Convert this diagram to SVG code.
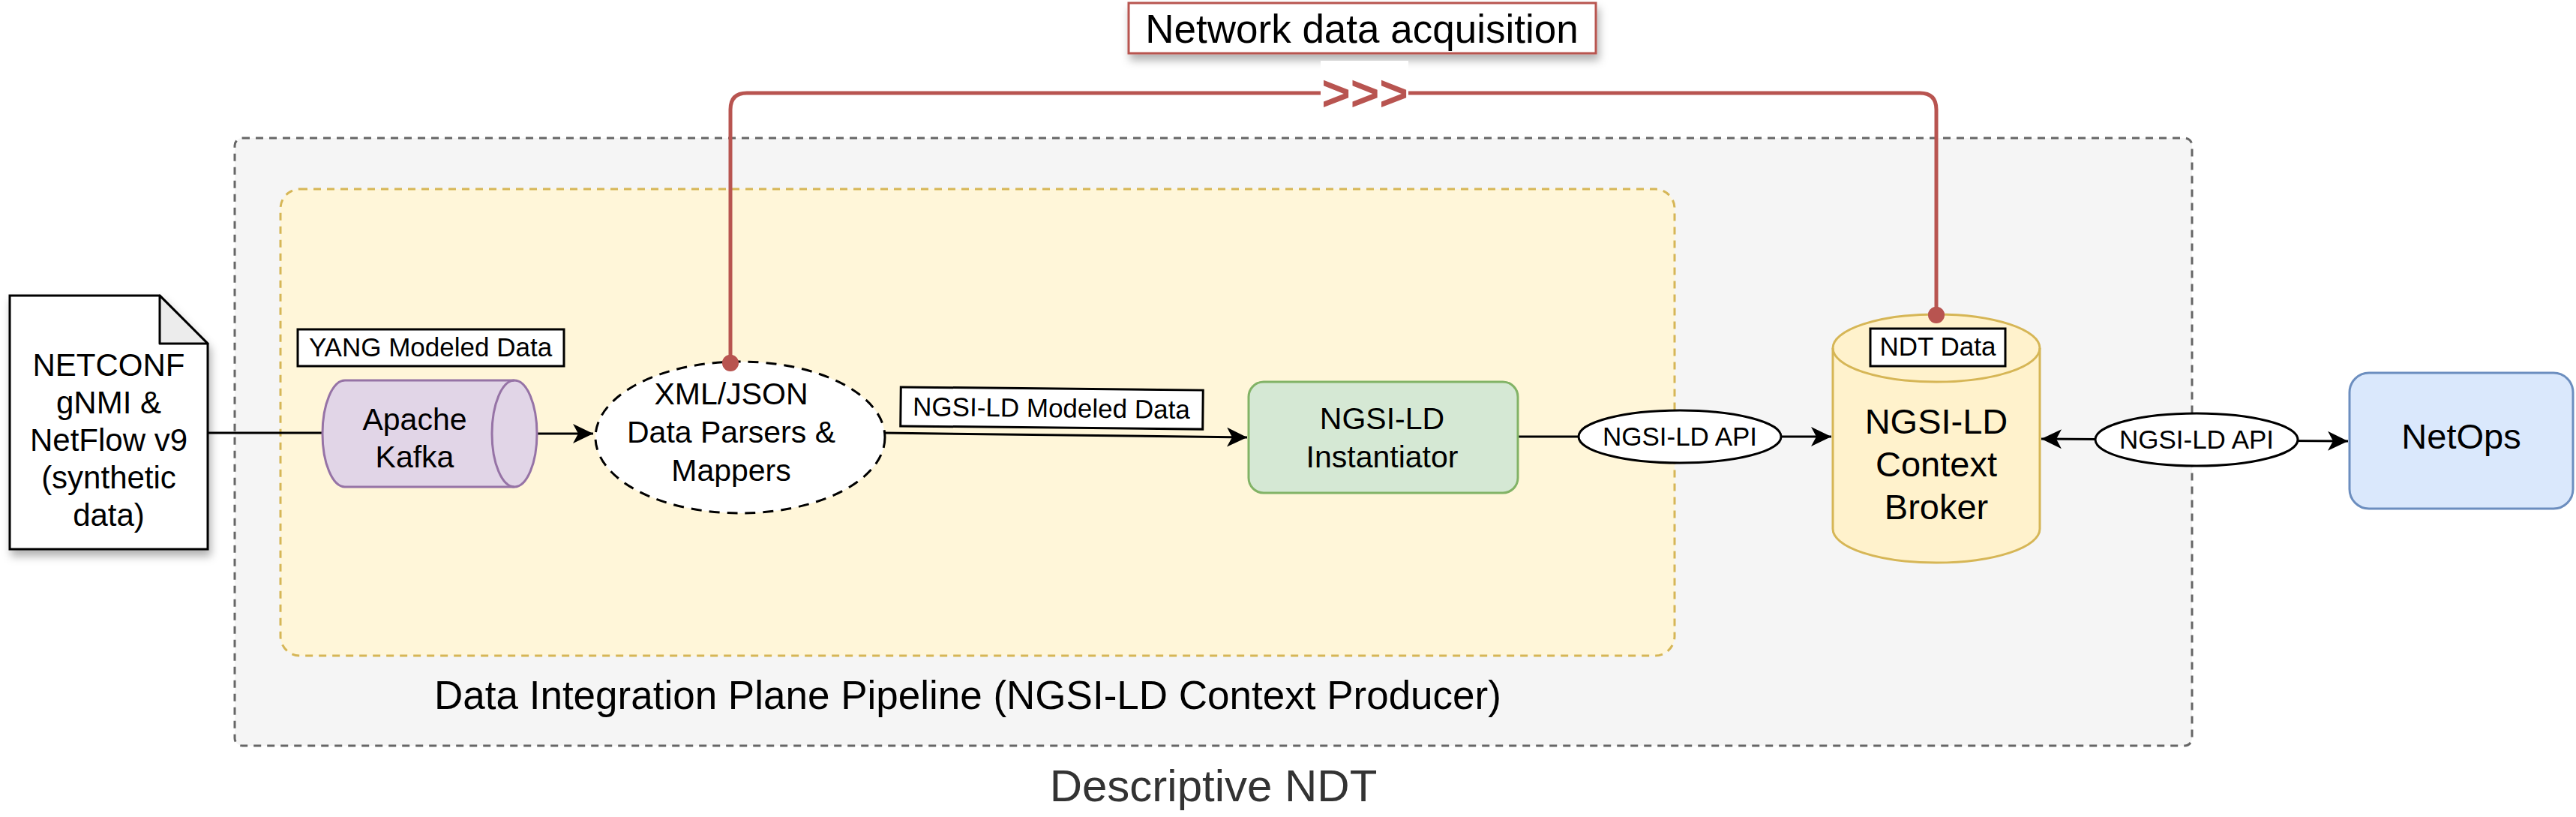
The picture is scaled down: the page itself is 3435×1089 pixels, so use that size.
<svg xmlns="http://www.w3.org/2000/svg" width="3435" height="1089" viewBox="0 0 3435 1089">
<defs>
<style>
text{font-family:"Liberation Sans",Arial,Helvetica,sans-serif;fill:#000}
.c{text-anchor:middle}
.lbl{fill:#fff;stroke:#000;stroke-width:3}
.edge{fill:none;stroke:#000;stroke-width:3}
.red{fill:none;stroke:#b85450;stroke-width:5}
</style>
<marker id="arr" markerUnits="userSpaceOnUse" markerWidth="30" markerHeight="28" refX="27" refY="13" orient="auto-start-reverse">
<path d="M0,0 L27,13 L0,26 L7,13 Z" fill="#000"/>
</marker>
<filter id="sh" x="-10%" y="-10%" width="130%" height="150%">
<feDropShadow dx="3" dy="8" stdDeviation="6" flood-color="#000" flood-opacity="0.3"/>
</filter>
</defs>
<rect width="3435" height="1089" fill="#fff"/>

<g id="descriptive-ndt">
<rect x="313" y="184" width="2610" height="810" rx="10" fill="#f5f5f5" stroke="#666" stroke-width="3" stroke-dasharray="10 8"/>
<text class="c" x="1618" y="1068" font-size="60" style="fill:#333">Descriptive NDT</text>
</g>

<g id="pipeline">
<rect x="374" y="252" width="1859" height="622" rx="26" fill="#fff6d9" stroke="#d6b656" stroke-width="3" stroke-dasharray="10 8"/>
<text x="579" y="945" font-size="53">Data Integration Plane Pipeline (NGSI-LD Context Producer)</text>
</g>

<g id="network-data-acquisition">
<rect x="1505" y="4" width="623" height="67" fill="#fff" stroke="#b85450" stroke-width="3" filter="url(#sh)"/>
<text class="c" x="1816" y="57" font-size="53">Network data acquisition</text>
</g>

<g id="netconf-source">
<g filter="url(#sh)">
<path d="M13,394 L213,394 L277,458 L277,732 L13,732 Z" fill="#fff" stroke="#000" stroke-width="3"/>
</g>
<path d="M213,394 L213,458 L277,458 Z" fill="#ececec" stroke="#000" stroke-width="3" stroke-linejoin="round"/>
<text class="c" x="145" y="501" font-size="42">NETCONF</text>
<text class="c" x="145" y="551" font-size="42">gNMI &amp;</text>
<text class="c" x="145" y="601" font-size="42">NetFlow v9</text>
<text class="c" x="145" y="651" font-size="42">(synthetic</text>
<text class="c" x="145" y="701" font-size="42">data)</text>
</g>

<g id="connectors">
<line class="edge" x1="277" y1="577" x2="430" y2="577"/>
<line class="edge" x1="716" y1="578" x2="791" y2="578" marker-end="url(#arr)"/>
<line class="edge" x1="1178" y1="577" x2="1663" y2="583" marker-end="url(#arr)"/>
<line class="edge" x1="2024" y1="582" x2="2442" y2="582" marker-end="url(#arr)"/>
<line class="edge" x1="2722" y1="585" x2="3131" y2="588" marker-start="url(#arr)" marker-end="url(#arr)"/>
<path class="red" d="M974,484 L974,146 Q974,124 996,124 L2560,124 Q2582,124 2582,146 L2582,420"/>
<circle cx="974" cy="484" r="11" fill="#b85450"/>
<circle cx="2582" cy="420" r="11" fill="#b85450"/>
<rect x="1761" y="81" width="117" height="66" fill="#fff"/>
<text class="c" x="1820" y="147" font-size="66" font-weight="bold" style="fill:#b85450">&gt;&gt;&gt;</text>
<g id="label-ngsild-modeled" transform="rotate(0.6 1402 544)">
<rect class="lbl" x="1201" y="518" width="403" height="52"/>
<text class="c" x="1402" y="556" font-size="35">NGSI-LD Modeled Data</text>
</g>
<g id="label-api-1">
<ellipse class="lbl" cx="2240" cy="582" rx="135" ry="35"/>
<text class="c" x="2240" y="594" font-size="35">NGSI-LD API</text>
</g>
<g id="label-api-2">
<ellipse class="lbl" cx="2929" cy="586" rx="135" ry="35"/>
<text class="c" x="2929" y="598" font-size="35">NGSI-LD API</text>
</g>
</g>

<g id="yang-label">
<rect class="lbl" x="397" y="439" width="355" height="49"/>
<text class="c" x="574" y="475" font-size="35">YANG Modeled Data</text>
</g>

<g id="apache-kafka">
<path d="M460,507 L686,507 A30,71 0 0,1 686,649 L460,649 A30,71 0 0,1 460,507 Z" fill="#e1d5e7" stroke="#9673a6" stroke-width="3"/>
<path d="M686,507 A30,71 0 0,0 686,649" fill="none" stroke="#9673a6" stroke-width="3"/>
<text class="c" x="553" y="573" font-size="41">Apache</text>
<text class="c" x="553" y="623" font-size="41">Kafka</text>
</g>

<g id="parsers-mappers">
<ellipse cx="987" cy="583" rx="193" ry="101" fill="#fff" stroke="#000" stroke-width="3" stroke-dasharray="14 10"/>
<text class="c" x="975" y="539" font-size="41">XML/JSON</text>
<text class="c" x="975" y="590" font-size="41">Data Parsers &amp;</text>
<text class="c" x="975" y="641" font-size="41">Mappers</text>
</g>
<circle cx="974" cy="484" r="11" fill="#b85450"/>

<g id="instantiator">
<rect x="1665" y="509" width="359" height="148" rx="20" fill="#d5e8d4" stroke="#82b366" stroke-width="3"/>
<text class="c" x="1843" y="572" font-size="41">NGSI-LD</text>
<text class="c" x="1843" y="623" font-size="41">Instantiator</text>
</g>

<g id="context-broker">
<path d="M2444,464 A138,45 0 0,1 2720,464 L2720,705 A138,45 0 0,1 2444,705 Z" fill="#fff2cc" stroke="#d6b656" stroke-width="3"/>
<path d="M2444,464 A138,45 0 0,0 2720,464" fill="none" stroke="#d6b656" stroke-width="3"/>
<rect class="lbl" x="2494" y="438" width="180" height="50"/>
<text class="c" x="2584" y="474" font-size="35">NDT Data</text>
<text class="c" x="2582" y="578" font-size="47">NGSI-LD</text>
<text class="c" x="2582" y="635" font-size="47">Context</text>
<text class="c" x="2582" y="692" font-size="47">Broker</text>
</g>
<circle cx="2582" cy="420" r="11" fill="#b85450"/>

<g id="netops">
<rect x="3133" y="497" width="298" height="181" rx="26" fill="#dae8fc" stroke="#6c8ebf" stroke-width="3"/>
<text class="c" x="3282" y="598" font-size="47">NetOps</text>
</g>
</svg>
